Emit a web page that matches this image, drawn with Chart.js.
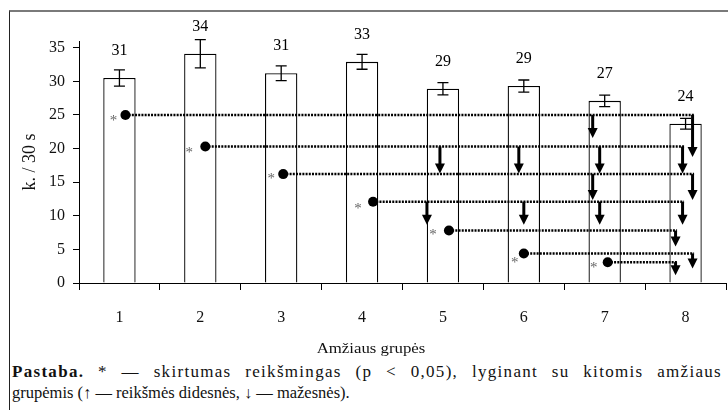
<!DOCTYPE html>
<html>
<head>
<meta charset="utf-8">
<script src="https://cdn.jsdelivr.net/npm/chart.js@4/dist/chart.umd.min.js"></script>
<style>
	html, body { margin: 0; padding: 0; background: #fff; }
	#wrap { position: relative; width: 728px; height: 410px; overflow: hidden; }
	#frame {
		position: absolute; left: 9px; top: 10px; width: 760px; height: 420px;
		border-top: 2px solid #7a7a7a; border-left: 1.5px solid #222;
	}
	#chart { position: absolute; left: 0; top: 0; }
	#note {
		position: absolute; left: 12px; top: 361px; width: 710px;
		font: 17px "Liberation Serif", "Times New Roman", serif;
		line-height: 21px; color: #111;
	}
	#note .l1 { text-align: justify; text-align-last: justify; white-space: nowrap; letter-spacing: 1.3px; }
	#note .l2 { font-size: 16.5px; }
</style>
</head>
<body>
<div id="wrap">
	<div id="frame"></div>
	<canvas id="chart" width="728" height="360"></canvas>
	<div id="note">
		<div class="l1"><b>Pastaba.</b> * — skirtumas reikšmingas (p &lt; 0,05), lyginant su kitomis amžiaus</div>
		<div class="l2">grupėmis (↑ — reikšmės didesnės, ↓ — mažesnės).</div>
	</div>
</div>
<script>
// age groups and mean values (k. / 30 s)
const groups = ["1", "2", "3", "4", "5", "6", "7", "8"];
const means = [30.5, 34.1, 31.2, 32.9, 28.9, 29.3, 27.1, 23.7];
const errors = [1.2, 2.1, 1.1, 1.1, 0.9, 0.9, 0.85, 0.8];
const valueLabels = ["31", "34", "31", "33", "29", "29", "27", "24"];
const yTicks = [0, 5, 10, 15, 20, 25, 30, 35];

// significance markers: group with "*", level of its dotted line, groups that are lower
const sigGroups = [1, 2, 3, 4, 5, 6, 7];
const sigLevels = [25, 20.3, 16.2, 12.1, 7.8, 4.4, 3.1];
const sigLower = [[7, 8], [5, 6, 7, 8], [7, 8], [5, 6, 7, 8], [8], [8], [8]];

const serif = '"Liberation Serif", "Times New Roman", serif';

// small pixel nudges so the arrows don't sit on top of each other
const dotShift = [6, 5, 2, 11, 6, 0, 3];
const starShift = [[-12, 3], [-16, 4], [-12, 2], [-15, 4], [-16, 1], [-9, 7], [-14, 3]];
const arrowShift = [[-12, 7], [-3, -5, -5, -3], [-12, 7], [-16, 0, -5, -3], [-10], [7], [-10]];
const arrowLen = [[23, 42], [27, 27, 27, 27], [26, 26], [23, 23, 23, 23], [16], [15], [13]];

function drawArrow(ctx, x, y0, len) {
	const head = 10;
	ctx.beginPath();
	ctx.setLineDash([]);
	ctx.lineWidth = 3;
	ctx.moveTo(x, y0);
	ctx.lineTo(x, y0 + len - head + 1);
	ctx.stroke();
	ctx.beginPath();
	ctx.moveTo(x - 5, y0 + len - head);
	ctx.lineTo(x + 5, y0 + len - head);
	ctx.lineTo(x, y0 + len);
	ctx.closePath();
	ctx.fill();
}

const extras = {
	id: "extras",
	afterDatasetsDraw(chart) {
		const ctx = chart.ctx;
		const xs = chart.scales.x;
		const ys = chart.scales.y;
		ctx.save();
		ctx.strokeStyle = "#000";
		ctx.fillStyle = "#000";

		// error bars
		ctx.lineWidth = 1.3;
		for (let i = 0; i < means.length; i++) {
			const x = xs.getPixelForValue(i);
			const top = ys.getPixelForValue(means[i] + errors[i]);
			const bot = ys.getPixelForValue(means[i] - errors[i]);
			ctx.beginPath();
			ctx.moveTo(x, top);
			ctx.lineTo(x, bot);
			ctx.moveTo(x - 5.5, top);
			ctx.lineTo(x + 5.5, top);
			ctx.moveTo(x - 5.5, bot);
			ctx.lineTo(x + 5.5, bot);
			ctx.stroke();
		}

		// value labels over the bars
		ctx.font = "16px " + serif;
		ctx.textAlign = "center";
		ctx.textBaseline = "middle";
		for (let i = 0; i < means.length; i++) {
			ctx.fillText(valueLabels[i], xs.getPixelForValue(i), ys.getPixelForValue(means[i]) - 27);
		}

		// dotted comparison lines with arrows
		for (let j = 0; j < sigGroups.length; j++) {
			const x0 = xs.getPixelForValue(sigGroups[j] - 1) + dotShift[j];
			const y = ys.getPixelForValue(sigLevels[j]);
			const ends = sigLower[j].map((g, k) => xs.getPixelForValue(g - 1) + arrowShift[j][k]);
			const x1 = Math.max(...ends);

			ctx.beginPath();
			ctx.setLineDash([2, 1.2]);
			ctx.lineWidth = 2.5;
			ctx.moveTo(x0, y);
			ctx.lineTo(x1 + 1.5, y);
			ctx.stroke();

			for (let k = 0; k < ends.length; k++) {
				drawArrow(ctx, ends[k], y, arrowLen[j][k]);
			}

			ctx.beginPath();
			ctx.setLineDash([]);
			ctx.arc(x0, y, 5, 0, Math.PI * 2);
			ctx.fill();

			ctx.fillStyle = "#666";
			ctx.font = "15px " + serif;
			ctx.fillText("*", x0 + starShift[j][0], y + starShift[j][1] + 3);
			ctx.fillStyle = "#000";
		}

		// x axis title, a bit left of the plot centre and slightly wide
		ctx.fillStyle = "#111";
		ctx.font = "14px " + serif;
		ctx.translate(371, 349);
		ctx.scale(1.2, 1);
		ctx.fillText("Amžiaus grupės", 0, 0);
		ctx.restore();
	}
};

new Chart(document.getElementById("chart"), {
	type: "bar",
	data: {
		labels: groups,
		datasets: [{
			data: means,
			backgroundColor: "#fff",
			borderColor: "#000",
			borderWidth: 1.3,
			categoryPercentage: 1,
			barPercentage: 0.4
		}]
	},
	options: {
		responsive: false,
		animation: false,
		devicePixelRatio: 1,
		layout: { padding: { top: 41, right: 2, left: 0, bottom: 0 } },
		plugins: { legend: { display: false }, tooltip: { enabled: false } },
		scales: {
			x: {
				offset: true,
				grid: { offset: true, drawOnChartArea: false, tickLength: 7, color: "#000" },
				border: { color: "#000", width: 1 },
				ticks: { padding: 18, color: "#111", font: { family: serif, size: 16 } },
				afterFit(scale) { scale.height = 77; }
			},
			y: {
				min: 0,
				max: 36,
				afterBuildTicks(scale) { scale.ticks = yTicks.map(v => ({ value: v })); },
				grid: { drawOnChartArea: false, tickLength: 6, color: "#000" },
				border: { color: "#000", width: 1 },
				ticks: { padding: 8, color: "#111", font: { family: serif, size: 16 } },
				title: {
					display: true,
					text: "k. / 30 s",
					color: "#111",
					font: { family: serif, size: 18 },
					padding: { top: 19, bottom: 0 }
				},
				afterFit(scale) { scale.width = 79; }
			}
		}
	},
	plugins: [extras]
});
</script>
</body>
</html>
